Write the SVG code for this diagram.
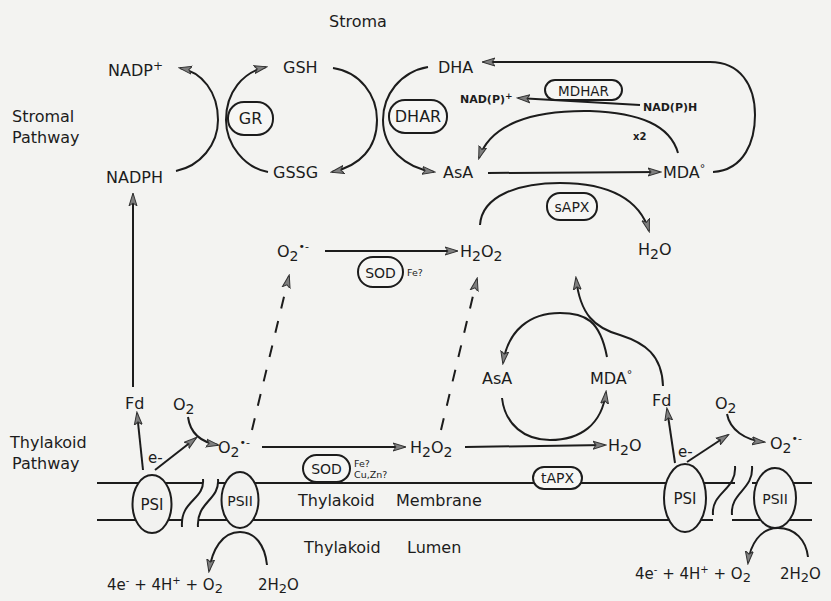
<svg xmlns="http://www.w3.org/2000/svg" width="831" height="601" viewBox="0 0 831 601">
<defs>
<style>
.t{font-family:"DejaVu Sans","Liberation Sans",sans-serif;font-size:16px;fill:#1c1c1c}
.s{font-size:11px;font-weight:bold}
.xs{font-size:9.5px}
.ln{fill:none;stroke:#1c1c1c;stroke-width:2}
.a{marker-end:url(#ah)}
.d{stroke-dasharray:12 13}
.box{fill:#f6f6f4;stroke:#1c1c1c;stroke-width:2}
.ps{fill:#f2f2f0;stroke:#1c1c1c;stroke-width:2}
.mem{fill:none;stroke:#1c1c1c;stroke-width:2}
</style>
<marker id="ah" viewBox="0 0 14 10" refX="12" refY="5" markerWidth="14" markerHeight="10" markerUnits="userSpaceOnUse" orient="auto">
<path d="M0,1 L13,5 L0,9 L3,5 z" fill="#7f7f7f" stroke="#333" stroke-width="1"/>
</marker>
</defs>
<rect x="0" y="0" width="831" height="601" fill="#f3f3f1"/>

<g id="membrane">
<path class="mem" d="M97,483 H203 M218,483 H735 M752,483 H812 M97,520 H182 M198,520 H713 M732,520 H812"/>
<path class="mem" d="M203,479 C205,500 180,500 182,527 M218,479 C220,500 196,502 198,527"/>
<path class="mem" d="M735,466 C737,490 711,492 713,515 M752,466 C754,490 730,492 732,515"/>
</g>

<g id="connectors">
<path class="ln a" d="M176,171 C200,166 218,145 218,120 C218,92 202,72 180,68"/>
<path class="ln a" d="M268,172 C245,168 226,145 226,120 C226,92 243,72 266,67"/>
<path class="ln a" d="M333,68 C360,72 377,95 377,120 C377,148 360,166 332,172"/>
<path class="ln a" d="M428,67 C400,72 383,95 383,120 C383,148 405,168 434,172"/>
<path class="ln a" d="M713,172 C745,170 755,140 755,115 C755,85 740,62 710,62 L483,62"/>
<path class="ln a" d="M640,105 L518,98"/>
<path class="ln a" d="M678,153 C670,125 640,113 590,111 C530,110 490,125 479,158"/>
<path class="ln a" d="M488,173 L660,172"/>
<path class="ln a" d="M480,225 C482,195 520,183 560,183 C610,183 640,200 649,231"/>
<path class="ln a" d="M325,251 L457,251"/>
<path class="ln a d" d="M252,430 L289,276"/>
<path class="ln a d" d="M441,430 L477,279"/>
<path class="ln a" d="M133,387 L133,194"/>
<path class="ln a" d="M143,470 L137,413"/>
<path class="ln a" d="M155,470 L196,438"/>
<path class="ln a" d="M188,417 C190,432 200,442 218,445"/>
<path class="ln a" d="M262,447 L405,447"/>
<path class="ln a" d="M465,447 L605,445"/>
<path class="ln a" d="M607,357 C600,320 585,313 560,313 C530,313 508,330 503,363"/>
<path class="ln a" d="M502,398 C505,425 525,440 550,440 C580,440 602,425 606,392"/>
<path class="ln a" d="M663,386 C662,355 645,343 620,335 C595,328 580,315 576,278"/>
<path class="ln a" d="M675,463 L667,409"/>
<path class="ln a" d="M687,462 L728,435"/>
<path class="ln a" d="M727,414 C730,430 745,440 764,442"/>
<path class="ln a" d="M267,565 C265,545 255,532 240,532 C222,532 212,550 209,571"/>
<path class="ln a" d="M808,557 C806,540 795,528 778,528 C760,528 750,545 748,563"/>
</g>

<g id="labels">
<text class="t" x="329" y="27">Stroma</text>
<text class="t" x="12" y="122">Stromal</text>
<text class="t" x="12" y="143">Pathway</text>
<text class="t" x="10" y="448">Thylakoid</text>
<text class="t" x="12" y="469">Pathway</text>
<text class="t" x="298" y="506">Thylakoid</text>
<text class="t" x="396" y="506">Membrane</text>
<text class="t" x="304" y="553">Thylakoid</text>
<text class="t" x="407" y="553">Lumen</text>
</g>

<g id="NADPplus"><text class="t" x="108" y="76">NADP<tspan dy="-6" font-size="12">+</tspan></text></g>
<g id="NADPH"><text class="t" x="106" y="183">NADPH</text></g>
<g id="GSH"><text class="t" x="283" y="73">GSH</text></g>
<g id="GSSG"><text class="t" x="273" y="178">GSSG</text></g>
<g id="GR"><rect class="box" x="228" y="102" width="45" height="33" rx="16"/><text class="t" x="250.5" y="124" text-anchor="middle">GR</text></g>
<g id="DHAR"><rect class="box" x="389" y="100" width="58" height="33" rx="16"/><text class="t" x="418" y="122" text-anchor="middle">DHAR</text></g>
<g id="DHA"><text class="t" x="438" y="73">DHA</text></g>
<g id="AsA-top"><text class="t" x="443" y="178">AsA</text></g>
<g id="MDA-top"><text class="t" x="663" y="178">MDA<tspan dy="-6" font-size="11">°</tspan></text></g>
<g id="NADPplus-small"><text class="t s" x="460" y="103">NAD(P)<tspan dy="-4" font-size="9">+</tspan></text></g>
<g id="NADPH-small"><text class="t s" x="643" y="111">NAD(P)H</text></g>
<g id="MDHAR"><rect class="box" x="545" y="80" width="77" height="20" rx="10"/><text class="t" x="583.5" y="95.5" text-anchor="middle" style="font-size:13.5px">MDHAR</text></g>
<g id="x2"><text class="t s" x="633" y="140" style="font-size:10px">x2</text></g>
<g id="sAPX"><rect class="box" x="547" y="193" width="50" height="27" rx="13"/><text class="t" x="572" y="212" text-anchor="middle" style="font-size:14px">sAPX</text></g>
<g id="H2O-top"><text class="t" x="638" y="255">H<tspan dy="4" font-size="14">2</tspan><tspan dy="-4">O</tspan></text></g>
<g id="O2rad-top"><text class="t" x="277" y="257">O<tspan dy="4" font-size="14">2</tspan><tspan dy="-11" font-size="11">•-</tspan></text></g>
<g id="H2O2-top"><text class="t" x="460" y="257">H<tspan dy="4" font-size="14">2</tspan><tspan dy="-4">O</tspan><tspan dy="4" font-size="14">2</tspan></text></g>
<g id="SOD-top"><rect class="box" x="358" y="257" width="45" height="30" rx="15"/><text class="t" x="380.5" y="278" text-anchor="middle" style="font-size:14px">SOD</text><text class="t xs" x="407" y="276">Fe?</text></g>

<g id="Fd-left"><text class="t" x="125" y="409">Fd</text></g>
<g id="O2-left"><text class="t" x="173" y="410">O<tspan dy="4" font-size="14">2</tspan></text></g>
<g id="e-left"><text class="t" x="148" y="463" style="font-size:15px">e-</text></g>
<g id="O2rad-low"><text class="t" x="218" y="453">O<tspan dy="4" font-size="14">2</tspan><tspan dy="-11" font-size="11">•-</tspan></text></g>
<g id="H2O2-low"><text class="t" x="410" y="453">H<tspan dy="4" font-size="14">2</tspan><tspan dy="-4">O</tspan><tspan dy="4" font-size="14">2</tspan></text></g>
<g id="H2O-low"><text class="t" x="608" y="451">H<tspan dy="4" font-size="14">2</tspan><tspan dy="-4">O</tspan></text></g>
<g id="SOD-low"><rect class="box" x="303" y="455" width="47" height="27" rx="13.5"/><text class="t" x="326.5" y="474" text-anchor="middle" style="font-size:14px">SOD</text><text class="t xs" x="354" y="467">Fe?</text><text class="t xs" x="354" y="478">Cu,Zn?</text></g>
<g id="tAPX"><rect class="box" x="533" y="467" width="49" height="22" rx="11"/><text class="t" x="557.5" y="483" text-anchor="middle" style="font-size:14px">tAPX</text></g>
<g id="AsA-low"><text class="t" x="482" y="384">AsA</text></g>
<g id="MDA-low"><text class="t" x="590" y="384">MDA<tspan dy="-6" font-size="11">°</tspan></text></g>
<g id="Fd-right"><text class="t" x="652" y="406">Fd</text></g>
<g id="e-right"><text class="t" x="678" y="457" style="font-size:15px">e-</text></g>
<g id="O2-right"><text class="t" x="715" y="409">O<tspan dy="4" font-size="14">2</tspan></text></g>
<g id="O2rad-right"><text class="t" x="770" y="449">O<tspan dy="4" font-size="14">2</tspan><tspan dy="-11" font-size="11">•-</tspan></text></g>

<g id="PSI-left"><ellipse class="ps" cx="152" cy="504" rx="19.5" ry="29"/><text class="t" x="152" y="510" text-anchor="middle" style="font-size:15px">PSI</text></g>
<g id="PSII-left"><ellipse class="ps" cx="240" cy="500" rx="18.5" ry="28"/><text class="t" x="240" y="506" text-anchor="middle" style="font-size:14px">PSII</text></g>
<g id="PSI-right"><ellipse class="ps" cx="685" cy="498" rx="21" ry="34"/><text class="t" x="685" y="504" text-anchor="middle" style="font-size:15px">PSI</text></g>
<g id="PSII-right"><ellipse class="ps" cx="775" cy="498" rx="21" ry="30"/><text class="t" x="775" y="504" text-anchor="middle" style="font-size:14px">PSII</text></g>

<g id="water-left"><text class="t" x="107" y="590" style="font-size:15px">4e<tspan dy="-6" font-size="10">-</tspan><tspan dy="6"> + 4H</tspan><tspan dy="-6" font-size="10">+</tspan><tspan dy="6"> + O</tspan><tspan dy="3" font-size="13">2</tspan></text><text class="t" x="258" y="590" style="font-size:15px">2H<tspan dy="3" font-size="13">2</tspan><tspan dy="-3">O</tspan></text></g>
<g id="water-right"><text class="t" x="635" y="579" style="font-size:15px">4e<tspan dy="-6" font-size="10">-</tspan><tspan dy="6"> + 4H</tspan><tspan dy="-6" font-size="10">+</tspan><tspan dy="6"> + O</tspan><tspan dy="3" font-size="13">2</tspan></text><text class="t" x="780" y="579" style="font-size:15px">2H<tspan dy="3" font-size="13">2</tspan><tspan dy="-3">O</tspan></text></g>
</svg>
